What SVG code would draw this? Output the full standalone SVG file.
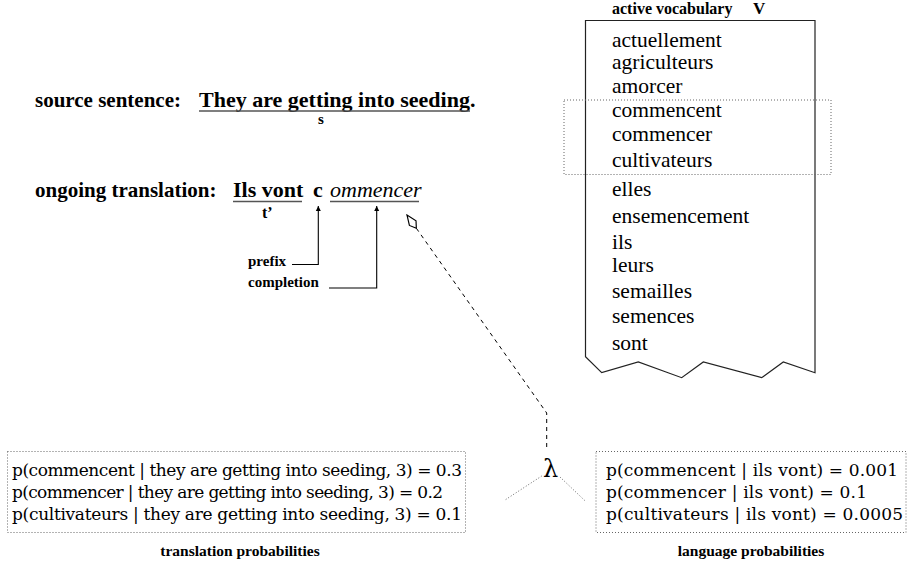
<svg xmlns="http://www.w3.org/2000/svg" width="910" height="563" viewBox="0 0 910 563">
<style>
  .lab { font-family: "Liberation Serif", "Times New Roman", serif; font-weight: bold; fill: #000; }
  .reg { font-family: "Liberation Serif", "Times New Roman", serif; fill: #000; }
  .prob { font-family: "DejaVu Serif", "Liberation Serif", serif; font-size: 17px; fill: #000; }
  .ul { stroke: #555; stroke-width: 1.6; fill: none; }
  .dot { stroke: #666; stroke-width: 1; stroke-dasharray: 1 2; fill: none; }
  .line { stroke: #000; stroke-width: 1.1; fill: none; }
</style>
<defs>
  <marker id="arr" viewBox="0 0 10 10" refX="10" refY="5" markerWidth="5" markerHeight="9" markerUnits="userSpaceOnUse" orient="auto">
    <path d="M0,0 L10,5 L0,10 Z" fill="#000"/>
  </marker>
  <marker id="diam" viewBox="0 0 20 12" refX="19" refY="6" markerWidth="18" markerHeight="11" markerUnits="userSpaceOnUse" orient="auto">
    <path d="M1,6 L8,1.5 L19,6 L8,10.5 Z" fill="#fff" stroke="#000" stroke-width="1.3"/>
  </marker>
</defs>
<rect width="910" height="563" fill="#fff"/>

<g id="source">
  <text class="lab" x="35" y="107" font-size="21">source sentence:</text>
  <text class="lab" x="199" y="107" font-size="22">They are getting into seeding.</text>
  <line class="ul" x1="199" y1="111" x2="470" y2="111"/>
  <text class="lab" x="318" y="124" font-size="15">s</text>
</g>

<g id="translation">
  <text class="lab" x="35" y="197" font-size="21">ongoing translation:</text>
  <text class="lab" x="233" y="197" font-size="22">Ils vont</text>
  <line class="ul" x1="233" y1="201.5" x2="302" y2="201.5"/>
  <text class="lab" x="313" y="197" font-size="22">c</text>
  <text class="reg" x="330" y="197" font-size="22" font-style="italic">ommencer</text>
  <line class="ul" x1="330" y1="201.5" x2="419" y2="201.5"/>
  <text class="lab" x="262" y="218" font-size="16">t’</text>
</g>

<g id="prefix">
  <text class="lab" x="248" y="266" font-size="15">prefix</text>
</g>
<g id="completion">
  <text class="lab" x="248" y="287" font-size="15">completion</text>
</g>

<g id="vocabulary">
  <text class="lab" x="612" y="14" font-size="16">active vocabulary</text>
  <text class="lab" x="753" y="14" font-size="17">V</text>
  <path d="M585.5,20.5 H815 V372.7 L783.3,362 L761.7,377.7 L703.3,362 L681.7,377.7 L638.3,362 L601.7,372.7 L585.5,356.7 Z" fill="none" stroke="#222" stroke-width="1.2"/>
  <g class="reg" font-size="21.5">
    <text x="612" y="47">actuellement</text>
    <text x="612" y="69">agriculteurs</text>
    <text x="612" y="93">amorcer</text>
    <text x="612" y="117">commencent</text>
    <text x="612" y="141">commencer</text>
    <text x="612" y="167">cultivateurs</text>
    <text x="612" y="196">elles</text>
    <text x="612" y="223">ensemencement</text>
    <text x="612" y="249">ils</text>
    <text x="612" y="272">leurs</text>
    <text x="612" y="298">semailles</text>
    <text x="612" y="323">semences</text>
    <text x="612" y="350">sont</text>
  </g>
  <rect class="dot" x="564" y="100" width="267" height="74.5"/>
</g>

<g id="lambda">
  <text x="543" y="477" font-family="DejaVu Serif, serif" font-size="24">λ</text>
</g>

<g id="translation-probabilities">
  <rect class="dot" x="7.5" y="451.5" width="458" height="81"/>
  <text class="prob" x="12" y="476" textLength="450">p(commencent | they are getting into seeding, 3) = 0.3</text>
  <text class="prob" x="12" y="498" textLength="431">p(commencer | they are getting into seeding, 3) = 0.2</text>
  <text class="prob" x="12" y="520" textLength="450">p(cultivateurs | they are getting into seeding, 3) = 0.1</text>
  <text class="lab" x="240" y="556" font-size="15.5" text-anchor="middle">translation probabilities</text>
</g>

<g id="language-probabilities">
  <rect class="dot" x="596" y="451.5" width="310" height="81"/>
  <text class="prob" x="606" y="476" textLength="292">p(commencent | ils vont) = 0.001</text>
  <text class="prob" x="606" y="498" textLength="261">p(commencer | ils vont) = 0.1</text>
  <text class="prob" x="606" y="520" textLength="297">p(cultivateurs | ils vont) = 0.0005</text>
  <text class="lab" x="751" y="556" font-size="15.5" text-anchor="middle">language probabilities</text>
</g>

<g id="connectors">
  <path class="line" d="M292,264.5 H318.3 V206" marker-end="url(#arr)"/>
  <path class="line" d="M329,288 H376.7 V206" marker-end="url(#arr)"/>
  <path d="M546.7,447 V413 L407,215" fill="none" stroke="#000" stroke-width="1" stroke-dasharray="4 4" marker-end="url(#diam)"/>
  <line class="dot" x1="541.7" y1="476" x2="505" y2="500"/>
  <line class="dot" x1="560" y1="477" x2="586" y2="501.7"/>
</g>
</svg>
